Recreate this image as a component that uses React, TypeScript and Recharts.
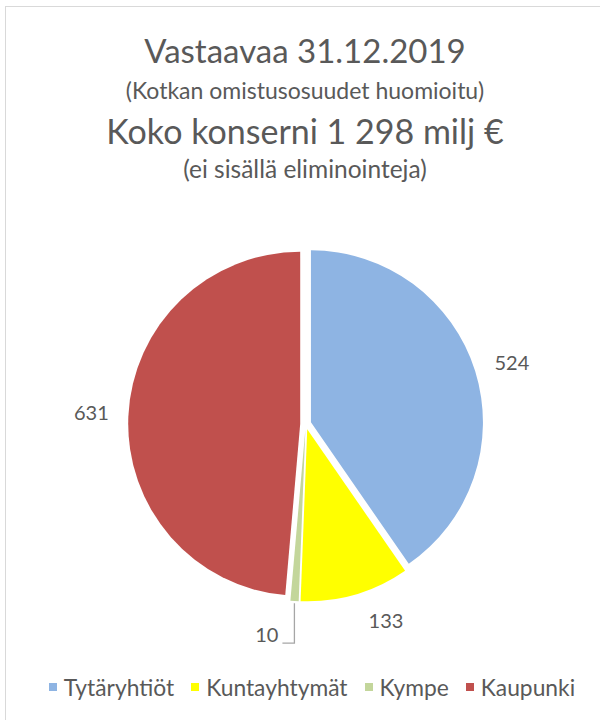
import React from "react";
import { PieChart, Pie, Cell } from "recharts";

const categories = ["Tytäryhtiöt", "Kuntayhtymät", "Kympe", "Kaupunki"];
const values = [524, 133, 10, 631];
const colors = ["#8EB4E3", "#FFFF00", "#C3D69B", "#C0504D"];
const titleLines = [
  "Vastaavaa 31.12.2019",
  "(Kotkan omistusosuudet huomioitu)",
  "Koko konserni 1 298 milj €",
  "(ei sisällä eliminointeja)",
];

const data = categories.map((name, i) => ({ name, value: values[i] }));
const total = values.reduce((a, b) => a + b, 0);

const FONT = "Lato, 'Open Sans', sans-serif";
const TEXT = "#595959";
const CX = 305.7;
const CY = 424;
const R = 172;
const EXPLODE = 5.5;
const RAD = Math.PI / 180;

const titleSizes = [33, 23, 34, 24.5];
const titleCenters = [50, 90, 131, 169];

// mid angle (recharts convention: degrees ccw from 3 o'clock), start at 90 going clockwise
const midAngles = values.map((v, i) => {
  const before = values.slice(0, i).reduce((a, b) => a + b, 0);
  return 90 - ((before + v / 2) / total) * 360;
});

const norm = (a: number) => {
  let x = a % 360;
  if (x <= -90) x += 360;
  if (x > 270) x -= 360;
  return x; // in (-90, 270]
};

const makeLabel = (k: number) => (props: any) => {
  const { cx, cy, midAngle, outerRadius, index, value } = props;
  if (index !== k) return null;
  if (k === 2) {
    const sx = cx + (outerRadius + 2) * Math.cos(-midAngle * RAD);
    const sy = cy + (outerRadius + 2) * Math.sin(-midAngle * RAD);
    const ey = sy + 40;
    const ex = sx - 12;
    return (
      <g>
        <polyline points={`${sx},${sy} ${sx},${ey} ${ex},${ey}`} fill="none" stroke="#A6A6A6" strokeWidth={1.3} />
        <text x={ex - 4} y={ey - 6} textAnchor="end" dominantBaseline="middle" fill={TEXT} fontSize={20} fontFamily={FONT}>
          {value}
        </text>
      </g>
    );
  }
  const a = norm(midAngle);
  const la = a <= 90 ? a * 0.92 : 180 + (a - 180) * 0.92;
  const rr = outerRadius + 37;
  const x = cx + rr * Math.cos(-la * RAD);
  const y = cy + rr * Math.sin(-la * RAD);
  return (
    <text x={x} y={y} textAnchor="middle" dominantBaseline="middle" fill={TEXT} fontSize={20} fontFamily={FONT}>
      {value}
    </text>
  );
};

export default function App() {
  return (
    <div style={{ position: "absolute", left: 0, top: 0, width: 600, height: 720, background: "#fff", overflow: "hidden", fontFamily: FONT }}>
      <div style={{ position: "absolute", left: 5, top: 6, width: 620, height: 740, border: "1px solid #D9D9D9", boxSizing: "border-box" }} />
      {titleLines.map((t, i) => (
        <div
          key={i}
          style={{
            position: "absolute",
            left: 0,
            width: 610,
            textAlign: "center",
            color: TEXT,
            fontSize: titleSizes[i],
            height: 40,
            lineHeight: "40px",
            top: titleCenters[i] - 20,
            whiteSpace: "nowrap",
          }}
        >
          {t}
        </div>
      ))}
      <div style={{ position: "absolute", left: 0, top: 0 }}>
        <PieChart width={600} height={720} margin={{ top: 0, right: 0, bottom: 0, left: 0 }}>
          {values.map((_, k) => (
            <Pie
              key={k}
              data={data}
              dataKey="value"
              nameKey="name"
              cx={CX + EXPLODE * Math.cos(-midAngles[k] * RAD)}
              cy={CY + EXPLODE * Math.sin(-midAngles[k] * RAD)}
              outerRadius={R}
              innerRadius={0}
              startAngle={90}
              endAngle={-270}
              isAnimationActive={false}
              label={makeLabel(k)}
              labelLine={false}
            >
              {data.map((d, i) => (
                <Cell key={i} fill={i === k ? colors[i] : "transparent"} stroke="none" />
              ))}
            </Pie>
          ))}
        </PieChart>
      </div>
      <div style={{ position: "absolute", left: 0, top: 672, height: 30, width: 624, display: "flex", justifyContent: "center", alignItems: "center", color: TEXT, fontSize: 22.8 }}>
        {categories.map((c, i) => (
          <div key={i} style={{ display: "flex", alignItems: "center", marginRight: i < categories.length - 1 ? 17 : 0 }}>
            <div style={{ width: 8, height: 8, background: colors[i], marginRight: 7 }} />
            <span>{c}</span>
          </div>
        ))}
      </div>
    </div>
  );
}
